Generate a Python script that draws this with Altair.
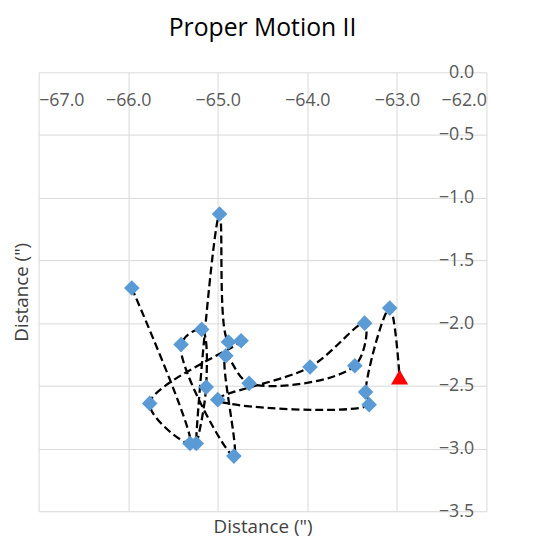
import altair as alt
import pandas as pd

# observations in time order (last one = current position, red triangle)
xs = [-65.96, -65.31, -65.76, -64.74, -64.88, -64.98, -65.24, -65.13, -65.18, -65.41,
      -64.82, -64.91, -64.65, -63.47, -63.36, -63.97, -65.00, -63.31, -63.35, -63.08, -62.97]
ys = [-1.72, -2.96, -2.64, -2.14, -2.15, -1.13, -2.96, -2.51, -2.05, -2.17,
      -3.06, -2.26, -2.48, -2.34, -2.00, -2.35, -2.61, -2.65, -2.55, -1.88, -2.43]
kinds = ["obs"] * 20 + ["current"]
x_ticks = [-67.0, -66.0, -65.0, -64.0, -63.0, -62.0]
y_ticks = [0.0, -0.5, -1.0, -1.5, -2.0, -2.5, -3.0, -3.5]

df = pd.DataFrame({"x": xs, "y": ys, "kind": kinds, "order": list(range(len(xs)))})

FONT = "Open Sans"
W, H = 453, 444

xs_scale = alt.Scale(domain=[-67, -62], nice=False, zero=False)
ys_scale = alt.Scale(domain=[-3.5, 0], nice=False, zero=False)

base = alt.Chart(df)

line = base.mark_line(interpolate="catmull-rom", strokeDash=[8, 4], strokeWidth=2.3,
                      color="black").encode(
    x=alt.X("x:Q", scale=xs_scale,
            axis=alt.Axis(orient="bottom", values=x_ticks, labels=False, ticks=False,
                          domain=False, grid=True, gridColor="#d9d9d9", gridWidth=1,
                          title='Distance (")', titleFont=FONT, titleFontSize=19,
                          titleFontWeight="normal", titleColor="#404040", titlePadding=6)),
    y=alt.Y("y:Q", scale=ys_scale,
            axis=alt.Axis(orient="left", values=y_ticks, labels=False, ticks=False,
                          domain=False, grid=True, gridColor="#d9d9d9", gridWidth=1,
                          title='Distance (")', titleFont=FONT, titleFontSize=19,
                          titleFontWeight="normal", titleColor="#404040", titlePadding=7)),
    order="order:Q",
)

points = base.mark_point(filled=True, opacity=1).encode(
    x=alt.X("x:Q", scale=xs_scale,
            axis=alt.Axis(orient="bottom", offset=-H, values=x_ticks, format=".1f",
                          labelFont=FONT, labelFontSize=18, labelColor="#595959",
                          labelBaseline="middle", labelPadding=29, tickSize=0,
                          ticks=False, domain=False, grid=False, title=None)),
    y=alt.Y("y:Q", scale=ys_scale,
            axis=alt.Axis(orient="left", offset=-W, values=y_ticks, format=".1f",
                          labelFont=FONT, labelFontSize=18, labelColor="#595959",
                          labelPadding=13, tickSize=0, ticks=False, domain=False,
                          grid=False, title=None)),
    shape=alt.Shape("kind:N", scale=alt.Scale(domain=["obs", "current"],
                                              range=["diamond", "triangle-up"]), legend=None),
    color=alt.Color("kind:N", scale=alt.Scale(domain=["obs", "current"],
                                              range=["#5b9bd5", "#ff0000"]), legend=None),
    size=alt.Size("kind:N", scale=alt.Scale(domain=["obs", "current"],
                                            range=[250, 300]), legend=None),
)

chart = alt.layer(line, points).resolve_axis(x="independent", y="independent").properties(
    width=W, height=H,
    title=alt.TitleParams("Proper Motion II", font=FONT, fontSize=25, fontWeight="normal",
                          color="#000000", anchor="middle", offset=23),
    autosize=alt.AutoSizeParams(type="none"),
    padding={"left": 31, "top": 62, "right": 40, "bottom": 26},
).configure_view(stroke=None)

chart.save("out.html", embed_options={"renderer": "svg", "actions": False})
